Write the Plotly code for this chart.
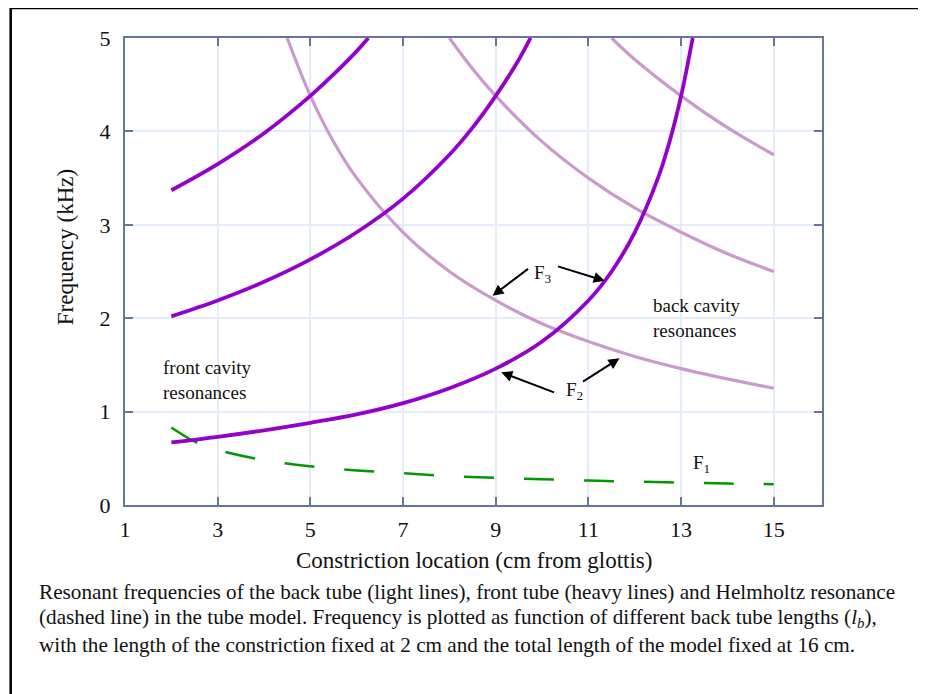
import plotly.graph_objects as go

# Front tube (heavy lines)
front1_x = [2, 3, 4, 5, 6, 7, 8, 9, 10, 11, 11.5, 12, 12.5, 12.75, 13, 13.25]
front1_y = [0.67, 0.73, 0.80, 0.88, 0.97, 1.09, 1.25, 1.46, 1.75, 2.19, 2.50, 2.92, 3.50, 3.89, 4.38, 5.0]
front3_x = [2, 3, 4, 5, 6, 7, 8, 8.5, 9, 9.5, 9.75]
front3_y = [2.02, 2.19, 2.39, 2.63, 2.92, 3.28, 3.75, 4.04, 4.38, 4.77, 5.0]
front5_x = [2, 3, 4, 5, 5.5, 6, 6.25]
front5_y = [3.37, 3.65, 3.98, 4.38, 4.61, 4.86, 5.0]

# Back tube (light lines)
back1_x = [4.5, 5, 5.5, 6, 7, 8, 9, 10, 11, 12, 13, 14, 15]
back1_y = [5.0, 4.38, 3.89, 3.50, 2.92, 2.50, 2.19, 1.94, 1.75, 1.59, 1.46, 1.35, 1.25]
back2_x = [8, 8.5, 9, 10, 11, 12, 13, 14, 15]
back2_y = [5.0, 4.67, 4.38, 3.89, 3.50, 3.18, 2.92, 2.69, 2.50]
back3_x = [11.5, 12, 13, 14, 15]
back3_y = [5.0, 4.77, 4.38, 4.04, 3.75]

# Helmholtz resonance (dashed)
helm_x = [2, 2.5, 3, 4, 5, 6, 7, 8, 9, 10, 11, 12, 13, 14, 15]
helm_y = [0.83, 0.68, 0.59, 0.48, 0.415, 0.37, 0.34, 0.31, 0.29, 0.277, 0.262, 0.25, 0.24, 0.23, 0.222]

x_ticks = [1, 3, 5, 7, 9, 11, 13, 15]
y_ticks = [0, 1, 2, 3, 4, 5]

caption_lines = [
    "Resonant frequencies of the back tube (light lines), front tube (heavy lines) and Helmholtz resonance",
    "(dashed line) in the tube model. Frequency is plotted as function of different back tube lengths (<i>l<sub>b</sub></i>),",
    "with the length of the constriction fixed at 2 cm and the total length of the model fixed at 16 cm.",
]

HEAVY = "#9400cc"
LIGHT = "#cc99cc"
GREEN = "#009a00"
AXIS = "#6674a0"
SERIF = "Liberation Serif"
TXT = "#111111"

fig = go.Figure()

for xs, ys in [(back1_x, back1_y), (back2_x, back2_y), (back3_x, back3_y)]:
    fig.add_trace(go.Scatter(x=xs, y=ys, mode="lines", line_shape="spline",
                             line=dict(color=LIGHT, width=3.2), hoverinfo="skip"))

fig.add_trace(go.Scatter(x=helm_x, y=helm_y, mode="lines", line_shape="spline",
                         line=dict(color=GREEN, width=2.5, dash="30px,30px"), hoverinfo="skip"))

for xs, ys in [(front1_x, front1_y), (front3_x, front3_y), (front5_x, front5_y)]:
    fig.add_trace(go.Scatter(x=xs, y=ys, mode="lines", line_shape="spline",
                             line=dict(color=HEAVY, width=3.8), hoverinfo="skip"))

# Labels
lab_font = dict(size=19, family=SERIF, color=TXT)
fig.add_annotation(x=1.78, y=1.34, text="front cavity<br>resonances", showarrow=False,
                   xanchor="left", align="left", font=lab_font)
fig.add_annotation(x=12.34, y=2.0, text="back cavity<br>resonances", showarrow=False,
                   xanchor="left", align="left", font=lab_font)
fig.add_annotation(x=10.01, y=2.47, text="F<sub>3</sub>", showarrow=False, font=lab_font)
fig.add_annotation(x=10.70, y=1.22, text="F<sub>2</sub>", showarrow=False, font=lab_font)
fig.add_annotation(x=13.45, y=0.44, text="F<sub>1</sub>", showarrow=False, font=lab_font)

# Arrows (tail -> tip)
arrows = [
    ((9.73, 2.54), (8.93, 2.24)),
    ((10.31, 2.56), (11.35, 2.40)),
    ((10.29, 1.20), (9.12, 1.42)),
    ((10.85, 1.31), (11.67, 1.57)),
]
for (tx, ty), (hx, hy) in arrows:
    fig.add_annotation(x=hx, y=hy, ax=tx, ay=ty, xref="x", yref="y", axref="x", ayref="y",
                       text="", showarrow=True, arrowhead=2, arrowsize=1.1, arrowwidth=2,
                       arrowcolor="black")

# Axis titles
fig.add_annotation(xref="paper", yref="paper", x=0.5, y=-0.118, yanchor="middle",
                   text="Constriction location (cm from glottis)", showarrow=False,
                   font=dict(size=23, family=SERIF, color=TXT))
fig.add_annotation(xref="paper", yref="paper", x=-0.086, y=0.552, xanchor="center", yanchor="middle",
                   text="Frequency (kHz)", textangle=-90, showarrow=False,
                   font=dict(size=23, family=SERIF, color=TXT))

# Caption
for line, yp in zip(caption_lines, [-0.186, -0.2427, -0.2995]):
    fig.add_annotation(xref="paper", yref="paper", x=-0.126, y=yp, xanchor="left", yanchor="middle",
                       text=line, showarrow=False, align="left",
                       font=dict(size=21.2, family=SERIF, color=TXT))

# Outer frame
fig.add_shape(type="rect", xref="paper", yref="paper", x0=-0.164, y0=-0.45, x1=1.2, y1=1.064,
              line=dict(color="black", width=2.5), layer="above")

axis_common = dict(ticks="inside", ticklen=8, tickwidth=2, tickcolor=AXIS, showline=True,
                   linecolor=AXIS, linewidth=2, mirror="ticks", showgrid=True,
                   gridcolor="#e4ecfb", gridwidth=2, zeroline=False,
                   tickfont=dict(size=22, family=SERIF, color=TXT))
fig.update_xaxes(range=[1, 16.04], tickvals=x_ticks, ticklabelstandoff=4, **axis_common)
fig.update_yaxes(range=[0, 5], tickvals=y_ticks, ticklabelstandoff=8, **axis_common)

# page body has an 8px margin, so the figure is drawn 8px smaller
fig.update_layout(width=918, height=686, margin=dict(l=117, r=104, t=30, b=189),
                  plot_bgcolor="white", paper_bgcolor="white", showlegend=False)

fig.write_html("out.html")
